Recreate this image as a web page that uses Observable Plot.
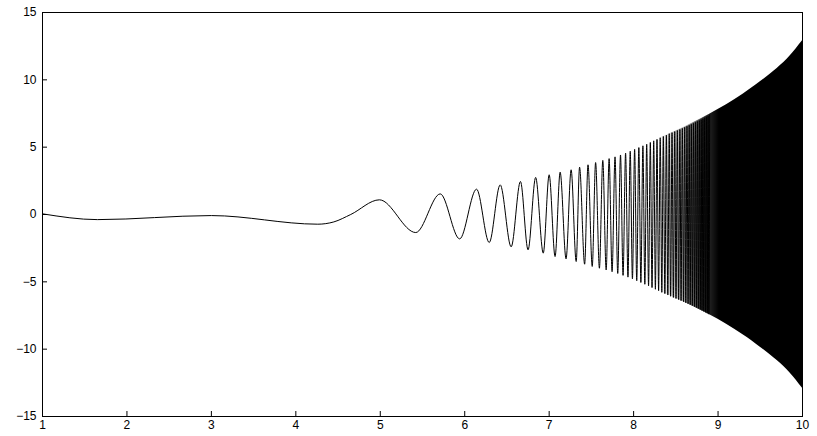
<!DOCTYPE html>
<html>
<head>
<meta charset="utf-8">
<script src="https://cdn.jsdelivr.net/npm/d3@7"></script>
<script src="https://cdn.jsdelivr.net/npm/@observablehq/plot@0.6"></script>
<style>
  html, body { margin: 0; padding: 0; background: #fff; }
  #chart svg { display: block; }
</style>
</head>
<body>
<div id="chart"></div>
<script>
// Local extrema (and a few shape points) of the resolvable oscillation
const extremaX = [1.00, 1.65, 3.00, 4.26, 4.45, 4.65, 4.99, 5.42, 5.71, 5.94, 6.14, 6.29, 6.42, 6.55, 6.66, 6.75, 6.84, 6.93, 7.00, 7.07, 7.13, 7.20, 7.26, 7.32, 7.36, 7.42, 7.46, 7.51, 7.55, 7.595, 7.635, 7.675, 7.71, 7.745, 7.78, 7.812, 7.845, 7.875, 7.905, 7.933, 7.96, 7.986, 8.012, 8.037, 8.062, 8.086, 8.11, 8.133, 8.155, 8.177, 8.198, 8.218, 8.238, 8.258, 8.277, 8.296, 8.315, 8.334, 8.352, 8.370, 8.388, 8.405, 8.422, 8.438, 8.455, 8.471, 8.487, 8.502, 8.518, 8.533, 8.548, 8.562, 8.577, 8.591, 8.605, 8.618, 8.632, 8.645, 8.658, 8.670, 8.683, 8.695, 8.708, 8.720, 8.732, 8.743, 8.755, 8.766, 8.778, 8.789, 8.800, 8.810, 8.821, 8.831, 8.842, 8.852, 8.862, 8.872, 8.882, 8.891, 8.901];
const extremaY = [0.05, -0.38, -0.08, -0.72, -0.55, 0.0, 1.09, -1.34, 1.53, -1.81, 1.88, -2.08, 2.20, -2.40, 2.45, -2.62, 2.75, -2.87, 2.95, -3.12, 3.14, -3.29, 3.32, -3.49, 3.51, -3.69, 3.69, -3.86, 3.86, -3.99, 4.02, -4.12, 4.15, -4.25, 4.28, -4.38, 4.42, -4.52, 4.56, -4.65, 4.70, -4.78, 4.84, -4.92, 4.97, -5.05, 5.10, -5.18, 5.22, -5.30, 5.35, -5.43, 5.47, -5.55, 5.58, -5.66, 5.70, -5.78, 5.80, -5.88, 5.90, -5.98, 6.00, -6.07, 6.08, -6.16, 6.16, -6.24, 6.24, -6.32, 6.32, -6.40, 6.40, -6.48, 6.48, -6.56, 6.56, -6.63, 6.63, -6.70, 6.70, -6.77, 6.77, -6.84, 6.84, -6.91, 6.91, -6.98, 6.98, -7.05, 7.05, -7.12, 7.12, -7.19, 7.19, -7.26, 7.26, -7.33, 7.33, -7.40, 7.40];

// Envelope of the dense (grey to solid black) part
const envX = [8.3, 8.5, 8.7, 8.9, 9.1, 9.3, 9.5, 9.7, 9.85, 10.0];
const envUpper = [5.66, 6.2, 6.8, 7.45, 8.15, 8.95, 9.85, 10.85, 11.75, 12.9];
const envLower = [-5.66, -6.22, -6.82, -7.45, -8.15, -8.95, -9.85, -10.85, -11.75, -12.9];

// Tick labels
const xTicks = [1, 2, 3, 4, 5, 6, 7, 8, 9, 10];
const yTicks = [-15, -10, -5, 0, 5, 10, 15];

const wave = extremaX.map((x, i) => ({x, y: extremaY[i]}));
const env = envX.map((x, i) => ({x, lo: envLower[i], hi: envUpper[i]}));

const gradientDefs = () => {
  const defs = d3.create("svg:defs");
  const g = defs.append("linearGradient").attr("id", "denseGrad")
    .attr("x1", "0").attr("x2", "1").attr("y1", "0").attr("y2", "0");
  [[0, 0], [0.18, 0.35], [0.32, 0.8], [0.42, 1], [1, 1]].forEach(([o, a]) =>
    g.append("stop").attr("offset", o).attr("stop-color", "#000").attr("stop-opacity", a));
  return defs.node();
};

const chart = Plot.plot({
  width: 817,
  height: 436,
  marginLeft: 42,
  marginRight: 15,
  marginTop: 12,
  marginBottom: 20,
  style: {fontFamily: "'Liberation Sans', Arial, sans-serif", fontSize: "12px", background: "#fff", color: "#000"},
  x: {domain: [1, 10]},
  y: {domain: [-15, 15]},
  marks: [
    gradientDefs,
    Plot.areaY(env, {x: "x", y1: "lo", y2: "hi", fill: "url(#denseGrad)", curve: "natural"}),
    Plot.line(wave, {x: "x", y: "y", stroke: "#000", strokeWidth: 1, curve: "monotone-x"}),
    Plot.frame({stroke: "#000", strokeWidth: 1}),
    Plot.axisX({ticks: xTicks, tickSize: -5, tickPadding: 9, label: null, tickFormat: d => String(d)}),
    Plot.axisY({ticks: yTicks, tickSize: -5, tickPadding: 11, label: null})
  ]
});
document.getElementById("chart").appendChild(chart);
</script>
</body>
</html>
